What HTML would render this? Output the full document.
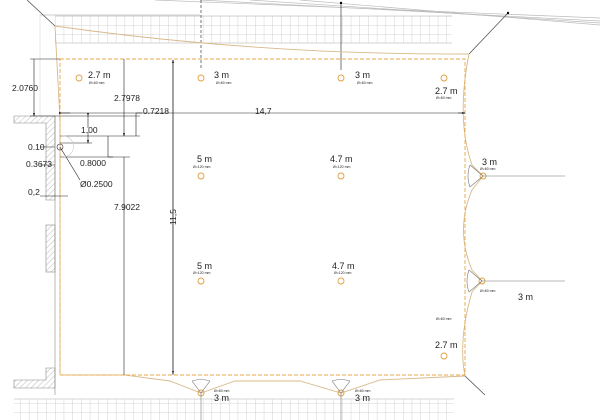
<!DOCTYPE html>
<html><head><meta charset="utf-8"><style>
html,body{margin:0;padding:0;background:#fff;}
svg{display:block;font-family:"Liberation Sans",sans-serif;}
</style></head><body>
<svg width="608" height="420" viewBox="0 0 608 420" xmlns="http://www.w3.org/2000/svg">
<defs>
<pattern id="g" x="55" y="16" width="8.7" height="9" patternUnits="userSpaceOnUse">
<path d="M0 0V9M0 0H8.7" stroke="#c8c8c8" stroke-width="0.8" fill="none"/></pattern>
<pattern id="h" width="4" height="4" patternUnits="userSpaceOnUse" patternTransform="rotate(45)">
<path d="M0 0V4" stroke="#aaa" stroke-width="0.8"/></pattern>
<marker id="a" markerWidth="6" markerHeight="6" refX="5" refY="3" orient="auto"><path d="M0 1.5L6 3L0 4.5z" fill="#000"/></marker>
</defs>
<rect x="55" y="16" width="397" height="27" fill="url(#g)"/>
<path d="M55 16H452M55 43H452" stroke="#c8c8c8" stroke-width="0.8"/>
<rect x="14" y="399" width="440" height="21" fill="url(#g)"/>
<path d="M14 399H454" stroke="#c8c8c8" stroke-width="0.8"/>
<g stroke="#bbb" stroke-width="0.7" fill="none">
<path d="M155 0L600 18"/><path d="M200 0L600 21"/><path d="M250 0L600 23"/><path d="M300 0L600 25"/>
<path d="M40 15H200"/><path d="M40 15V116" stroke="#ddd"/>
</g>
<path d="M27 0L55 26" stroke="#555" stroke-width="0.8"/>
<path d="M508 13L469 54" stroke="#555" stroke-width="0.8"/>
<circle cx="508" cy="13" r="1.2" fill="#000"/>
<path d="M341 3V70" stroke="#555" stroke-width="0.8"/><circle cx="341" cy="3" r="1.2" fill="#000"/>
<path d="M201 0V70" stroke="#555" stroke-width="0.8" stroke-dasharray="3 2"/>
<g stroke="#d8b98a" stroke-width="0.9" fill="none">
<path d="M55 26Q260 55 469 54"/>
<path d="M55 26L60 120V375"/>
<path d="M469 54Q456 120 472 165L483 176L472 190Q455 230 472 270L482 281L472 292Q458 340 465 376"/>
<path d="M465 376L380 380L341 393L300 381L235 381L201 393L170 381L125 375L60 375"/>
</g>
<path d="M465 376L485 395" stroke="#555" stroke-width="0.8"/>
<rect x="60" y="59" width="405" height="316" fill="none" stroke="#e8a94a" stroke-width="0.9" stroke-dasharray="4 2"/>
<g fill="url(#h)" stroke="#888" stroke-width="0.6">
<path d="M14 116H55V200H46V123H14Z"/>
<rect x="46" y="225" width="9" height="47"/>
<path d="M46 368H55V388H14V380H46Z"/>
</g>
<path d="M55 116V395" stroke="#888" stroke-width="0.6"/>
<g stroke="#222" stroke-width="0.6" fill="none">
<path d="M30 59H60M30 116H60"/>
<path d="M34 59V116" marker-end="url(#a)"/>
<path d="M124 59V136" marker-end="url(#a)"/>
<path d="M173 60V374" marker-end="url(#a)"/>
<path d="M173 375V60" marker-end="url(#a)"/>
<path d="M60 113H465"/>
<path d="M62 113H70" marker-start="url(#a)"/>
<path d="M458 113H465" marker-end="url(#a)"/>
<path d="M60 116H140M60 136H140M60 143H92M60 157H130"/>
<path d="M88 116V128" marker-start="url(#a)"/><path d="M88 132V143" marker-end="url(#a)"/>
<path d="M136 113V136"/><path d="M136 113H142"/>
<path d="M108 136V157"/><path d="M108 157H113"/>
<path d="M124 157V375"/>
<path d="M40 147H55M40 165H55M40 196H68"/>
<path d="M60 147L80 180"/>
</g>
<circle cx="60" cy="147" r="3" fill="none" stroke="#333" stroke-width="0.6"/>
<path d="M62 136A10 10 0 0 1 64 157" fill="none" stroke="#ccc" stroke-width="0.6"/>
<g font-size="8.5" fill="#222">
<text x="12" y="91">2.0760</text>
<text x="114" y="101">2.7978</text>
<text x="143" y="114">0.7218</text>
<text x="255" y="114">14,7</text>
<text x="81" y="133">1.00</text>
<text x="28" y="150">0.10</text>
<text x="26" y="167">0.3673</text>
<text x="80" y="166">0.8000</text>
<text x="80" y="187">Ø0.2500</text>
<text x="28" y="195">0,2</text>
<text x="114" y="210">7.9022</text>
<text x="0" y="0" transform="translate(176,225) rotate(-90)">11,5</text>
</g>
<g fill="none" stroke="#e0a040" stroke-width="0.9">
<circle cx="79" cy="78" r="3"/><circle cx="201" cy="78" r="3"/><circle cx="341" cy="78" r="3"/><circle cx="444" cy="78" r="3"/>
<circle cx="201" cy="176" r="3"/><circle cx="341" cy="176" r="3"/>
<circle cx="201" cy="281" r="3"/><circle cx="341" cy="281" r="3"/>
<circle cx="444" cy="356" r="3"/>
<circle cx="483" cy="176" r="3"/><circle cx="482" cy="281" r="3"/>
<circle cx="201" cy="393" r="3"/><circle cx="341" cy="393" r="3"/>
</g>
<g stroke="#777" stroke-width="0.6">
<path d="M483 176H565M482 281H565" fill="none"/>
<path d="M470 165L483 176L470 187" fill="none"/><path d="M470 165Q466 176 470 187" fill="none"/>
<path d="M469 270L482 281L469 292" fill="none"/><path d="M469 270Q465 281 469 292" fill="none"/>
<path d="M192 381L201 393L210 381" fill="none"/><path d="M192 381Q201 378 210 381" fill="none"/>
<path d="M332 381L341 393L350 381" fill="none"/><path d="M332 381Q341 378 350 381" fill="none"/>
<path d="M201 393V420M341 393V420" fill="none"/>
</g>
<g fill="#222">
<text x="88" y="78" font-size="9">2.7 m</text><text x="89" y="84" font-size="3.5">Ø=60 mm</text>
<text x="214" y="78" font-size="9">3 m</text><text x="216" y="84" font-size="3.5">Ø=60 mm</text>
<text x="355" y="78" font-size="9">3 m</text><text x="357" y="84" font-size="3.5">Ø=60 mm</text>
<text x="435" y="94" font-size="9">2.7 m</text><text x="436" y="99" font-size="3.5">Ø=60 mm</text>
<text x="197" y="162" font-size="9">5 m</text><text x="193" y="168" font-size="3.5">Ø=120 mm</text>
<text x="330" y="162" font-size="9">4.7 m</text><text x="333" y="168" font-size="3.5">Ø=120 mm</text>
<text x="197" y="269" font-size="9">5 m</text><text x="193" y="274" font-size="3.5">Ø=120 mm</text>
<text x="332" y="269" font-size="9">4.7 m</text><text x="334" y="274" font-size="3.5">Ø=120 mm</text>
<text x="482" y="165" font-size="9">3 m</text><text x="480" y="170" font-size="3.5">Ø=60 mm</text>
<text x="480" y="292" font-size="3.5">Ø=60 mm</text><text x="518" y="300" font-size="9">3 m</text>
<text x="436" y="320" font-size="3.5">Ø=60 mm</text>
<text x="435" y="348" font-size="9">2.7 m</text>
<text x="214" y="392" font-size="3.5">Ø=60 mm</text><text x="214" y="401" font-size="9">3 m</text>
<text x="355" y="392" font-size="3.5">Ø=60 mm</text><text x="355" y="401" font-size="9">3 m</text>
</g>
</svg>
</body></html>
